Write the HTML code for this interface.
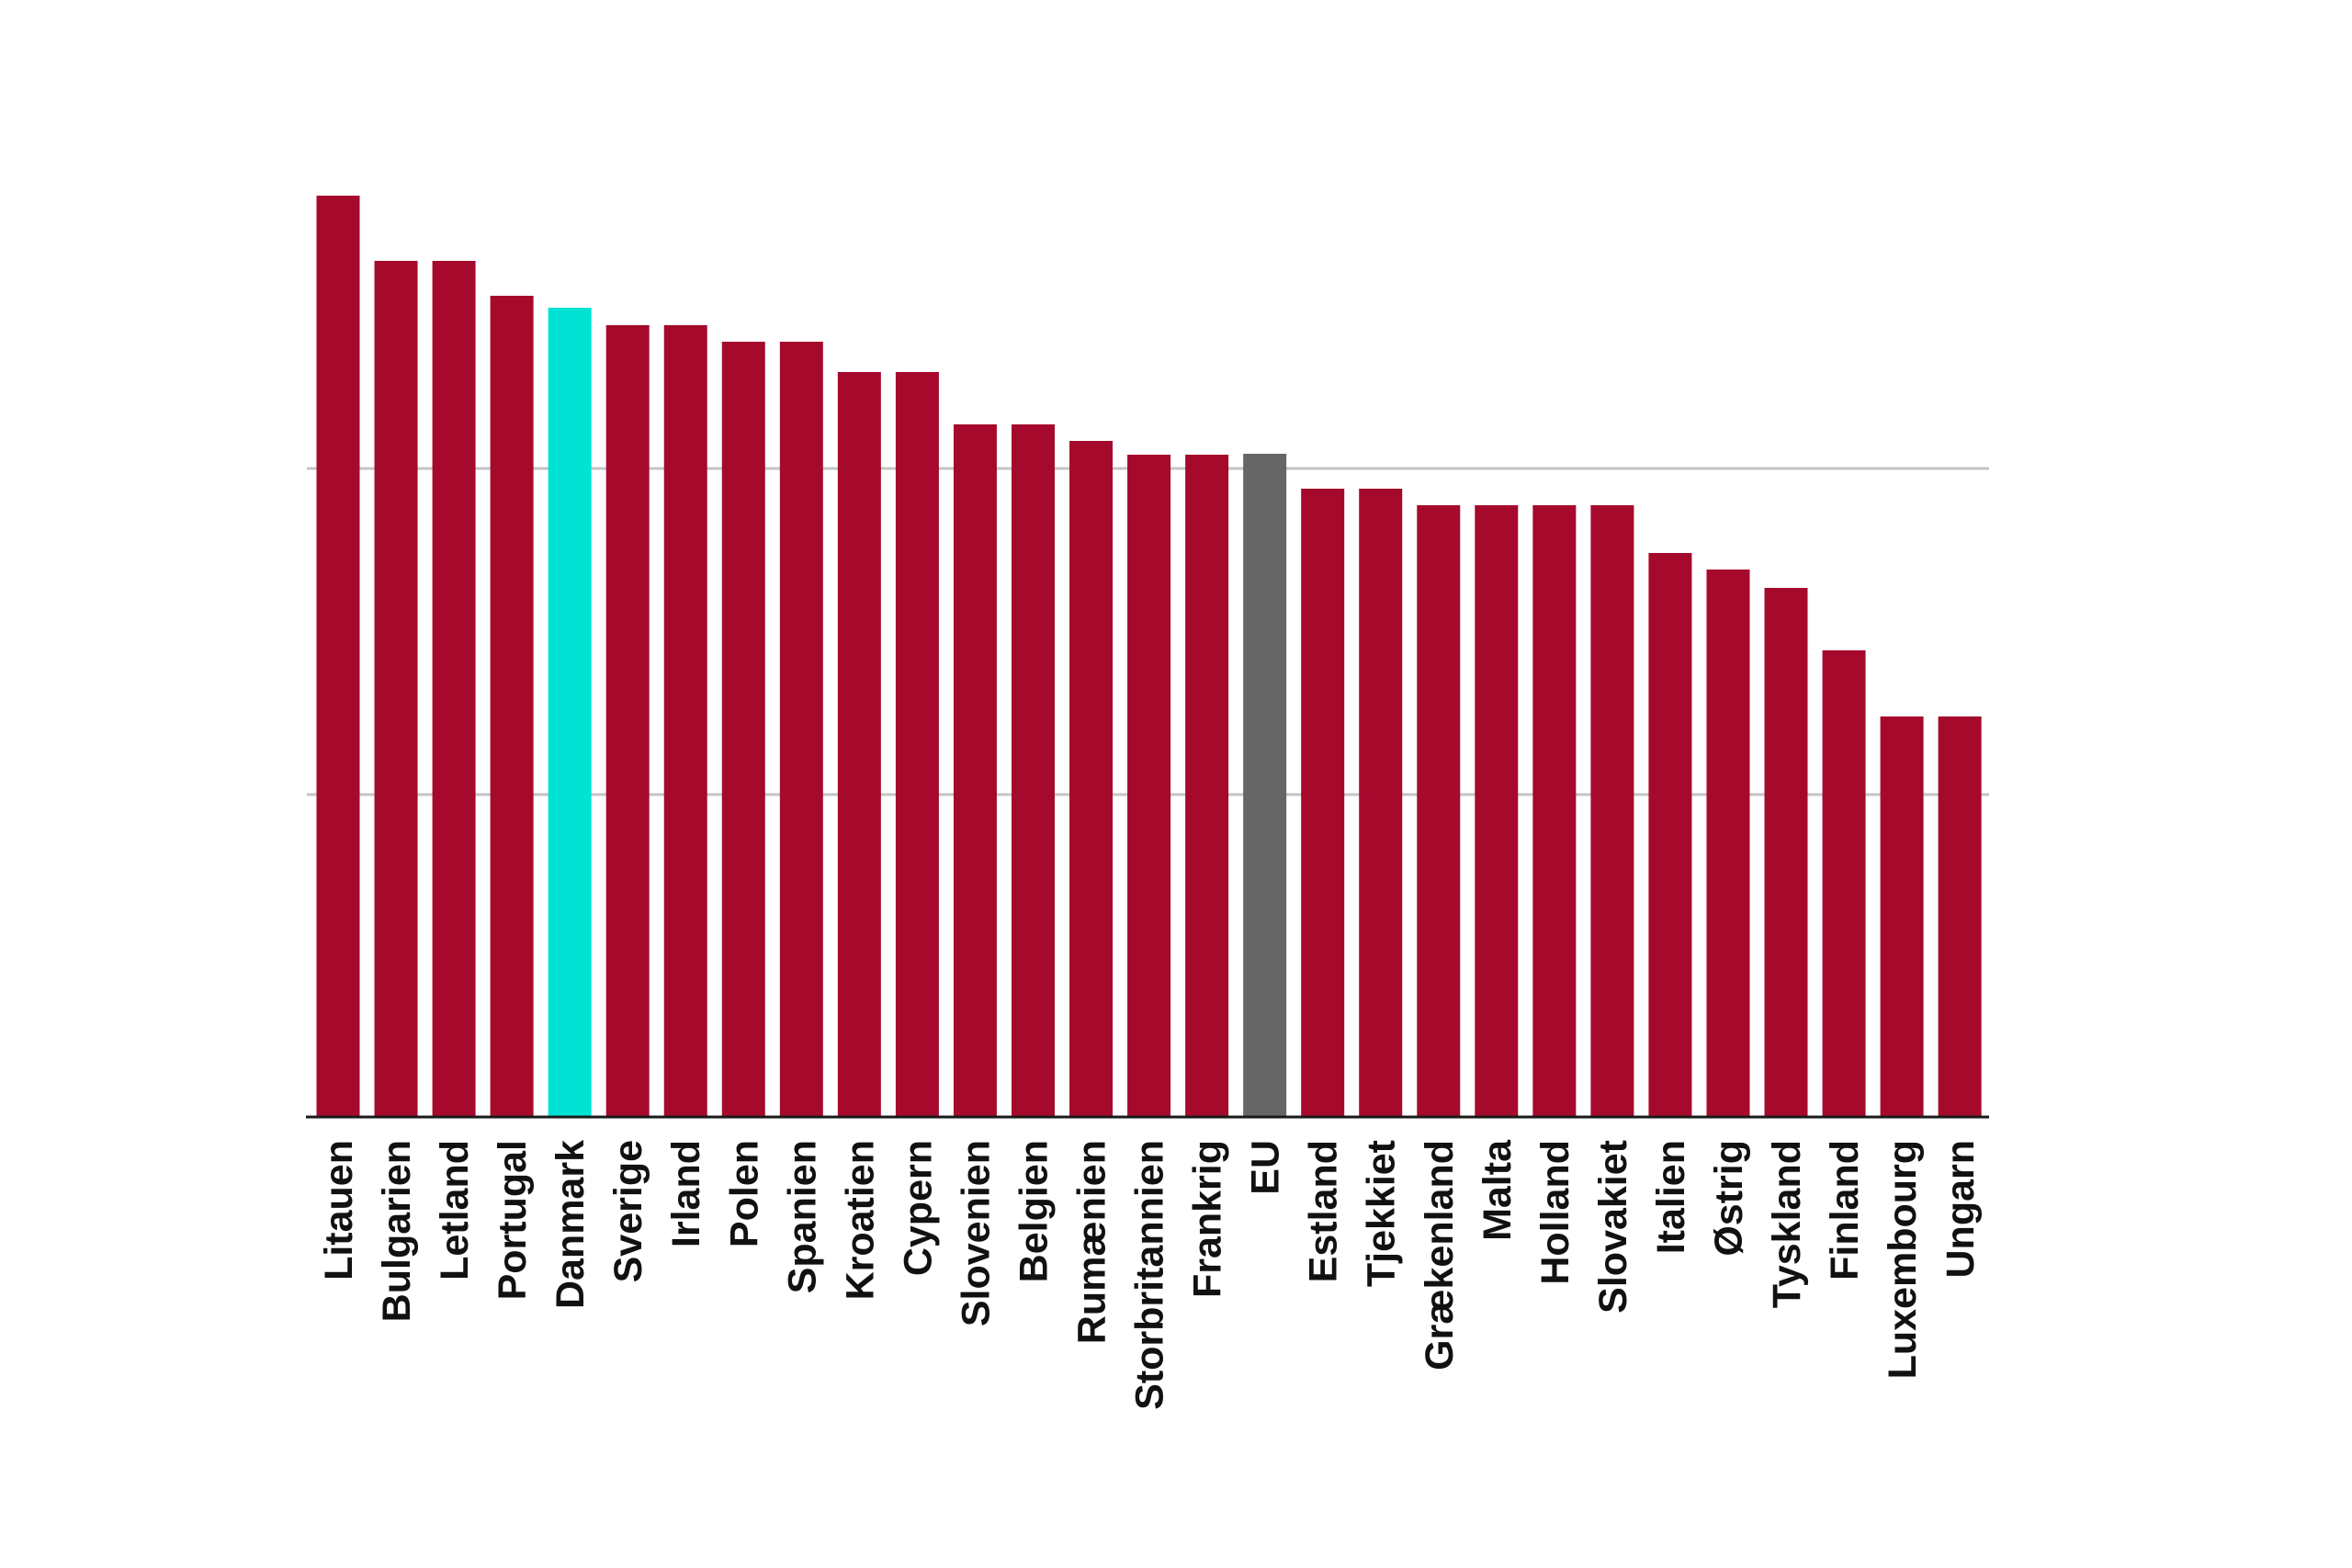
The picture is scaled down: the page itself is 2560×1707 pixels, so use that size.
<!DOCTYPE html>
<html><head><meta charset="utf-8"><style>
html,body{margin:0;padding:0;background:#fff;}
svg{display:block;}
text{font-family:"Liberation Sans",sans-serif;font-weight:bold;font-size:43px;fill:#111;}
</style></head><body>
<svg width="2560" height="1707" viewBox="0 0 2560 1707" xmlns="http://www.w3.org/2000/svg">
<rect width="2560" height="1707" fill="#fff"/>
<line x1="334" y1="510" x2="2165" y2="510" stroke="#c4c4c4" stroke-width="3"/>
<line x1="334" y1="865" x2="2165" y2="865" stroke="#c4c4c4" stroke-width="3"/>
<g id="bars"></g>
<line x1="333" y1="1216" x2="2165" y2="1216" stroke="#1a1a1a" stroke-width="3"/>
<g id="labels"></g>
<script>
var d=[["Litauen",213],["Bulgarien",284],["Letland",284],["Portugal",322],["Danmark",335],["Sverige",354],["Irland",354],["Polen",372],["Spanien",372],["Kroatien",405],["Cypern",405],["Slovenien",462],["Belgien",462],["Rumænien",480],["Storbritannien",495],["Frankrig",495],["EU",494],["Estland",532],["Tjekkiet",532],["Grækenland",550],["Malta",550],["Holland",550],["Slovakiet",550],["Italien",602],["Østrig",620],["Tyskland",640],["Finland",708],["Luxembourg",780],["Ungarn",780]];
var ns="http://www.w3.org/2000/svg",b=document.getElementById("bars"),l=document.getElementById("labels");
d.forEach(function(e,i){
 var cx=368+i*63.04;
 var r=document.createElementNS(ns,"rect");
 r.setAttribute("x",cx-23.5);r.setAttribute("y",e[1]);r.setAttribute("width",47);r.setAttribute("height",1216-e[1]);
 r.setAttribute("fill",e[0]=="Danmark"?"#00e2d3":(e[0]=="EU"?"#666666":"#a50a2d"));
 b.appendChild(r);
 var t=document.createElementNS(ns,"text");
 t.setAttribute("text-anchor","end");
 t.setAttribute("transform","translate("+(cx+15)+",1241) rotate(-90)");
 t.textContent=e[0];
 l.appendChild(t);
});
</script>
</svg>
</body></html>
